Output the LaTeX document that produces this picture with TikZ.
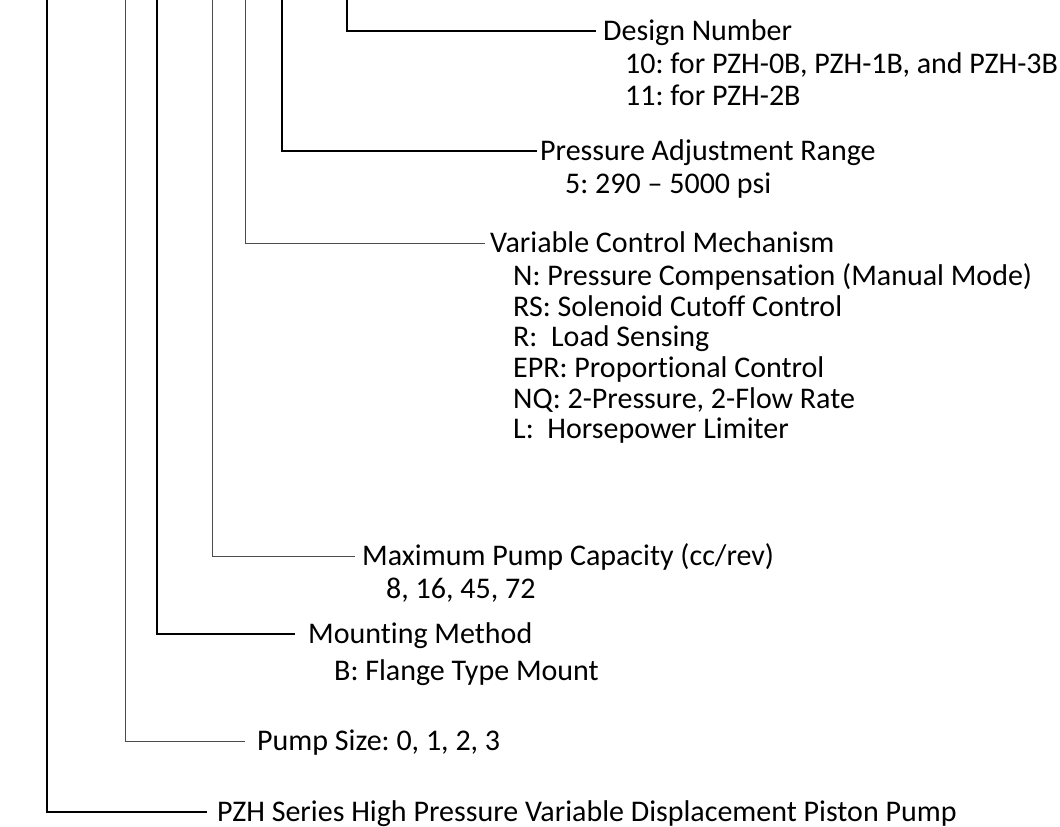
\documentclass[tikz,border=0pt]{standalone}
\usepackage{fontspec}
\setmainfont{Carlito}[Ligatures={NoCommon}]
\frenchspacing
\begin{document}
\begin{tikzpicture}[x=1pt,y=-1pt,
    item/.style={anchor=base west, inner sep=0pt, font=\fontsize{30}{31}\selectfont},
    heading/.style={item, text height=20pt, text depth=2pt},
    lead/.style={line width=0.8pt, draw=black!70},
    leadthick/.style={line width=1.6pt, draw=black}]
  \useasboundingbox (0,0) rectangle (1060,827);

  % tops of the code lines
  \coordinate (tseries) at (47,0);
  \coordinate (tsize) at (125,0);
  \coordinate (tmount) at (157,0);
  \coordinate (tcap) at (212,0);
  \coordinate (tvar) at (245,0);
  \coordinate (tpress) at (282,0);
  \coordinate (tdesign) at (347,0);

  % Design number
  \node[heading] (design) at (603,40) {Design Number};
  \node[item] (design1) at (625,73) {10: for PZH-0B, PZH-1B, and PZH-3B};
  \node[item] (design2) at (625,105) {11: for PZH-2B};

  % Pressure range
  \node[heading] (press) at (540,160) {Pressure Adjustment Range};
  \node[item] (press1) at (565,193) {5: 290 -- 5000 psi};

  % Control mechanism
  \node[heading] (var) at (490,252) {Variable Control Mechanism};
  \node[item] (var1) at (513,285) {N: Pressure Compensation (Manual Mode)};
  \node[item] (var2) at (513,316) {RS: Solenoid Cutoff Control};
  \node[item] (var3) at (513,346) {R:\ \ Load Sensing};
  \node[item] (var4) at (513,377) {EPR: Proportional Control};
  \node[item] (var5) at (513,408) {NQ: 2-Pressure, 2-Flow Rate};
  \node[item] (var6) at (513,438) {L:\ \ Horsepower Limiter};

  % Capacity
  \node[heading] (cap) at (362,565) {Maximum Pump Capacity (cc/rev)};
  \node[item] (cap1) at (386,598) {8, 16, 45, 72};

  % Mounting
  \node[heading] (mount) at (308,643) {Mounting Method};
  \node[item] (mount1) at (334,680) {B: Flange Type Mount};

  % Size and series
  \node[heading] (size) at (257,750) {Pump Size: 0, 1, 2, 3};
  \node[heading] (series) at (217,821) {PZH Series High Pressure Variable Displacement Piston Pump};

  % leader lines
  \draw[leadthick, shorten >=7pt] (tdesign) |- (design.west);
  \draw[leadthick, shorten >=3pt] (tpress) |- (press.west);
  \draw[lead, shorten >=5pt] (tvar) |- (var.west);
  \draw[lead, shorten >=7pt] (tcap) |- (cap.west);
  \draw[leadthick, shorten >=13pt] (tmount) |- (mount.west);
  \draw[lead, shorten >=12pt] (tsize) |- (size.west);
  \draw[leadthick, shorten >=10pt] (tseries) |- (series.west);
\end{tikzpicture}
\end{document}
